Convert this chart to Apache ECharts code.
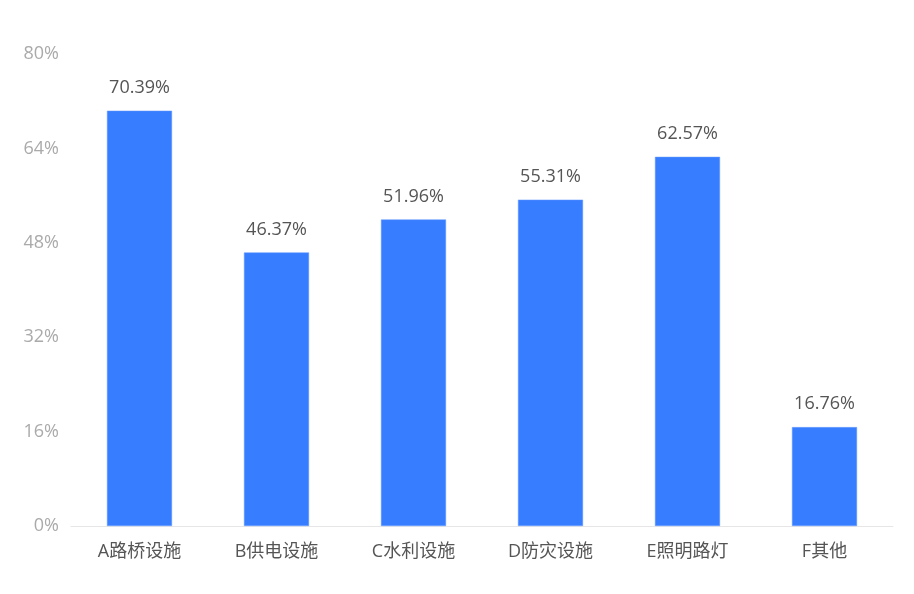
<!DOCTYPE html>
<html><head><meta charset="utf-8">
<script src="https://cdn.jsdelivr.net/npm/echarts@6/dist/echarts.min.js"></script>
<style>html,body{margin:0;padding:0;background:#fff}#c{width:914px;height:594px}</style>
</head><body><div id="c"></div>
<script>
const categories = ['A路桥设施','B供电设施','C水利设施','D防灾设施','E照明路灯','F其他'];
const values = [70.39, 46.37, 51.96, 55.31, 62.57, 16.76];
const yTicks = {min: 0, max: 80, interval: 16};
const font = '"Open Sans", "Noto Sans CJK SC", sans-serif';
const chart = echarts.init(document.getElementById('c'));
chart.setOption({
  animation: false,
  grid: {left: 71, right: 21, top: 54, bottom: 68},
  xAxis: {
    type: 'category', data: categories,
    axisLine: {lineStyle: {color: '#e6e6e6'}},
    axisTick: {show: false},
    axisLabel: {color: '#555', fontSize: 18, fontFamily: font, margin: 17}
  },
  yAxis: {
    type: 'value', min: yTicks.min, max: yTicks.max, interval: yTicks.interval,
    splitLine: {show: false},
    axisLine: {show: false}, axisTick: {show: false},
    axisLabel: {color: '#aaa', fontSize: 18, fontFamily: font, margin: 12, formatter: '{value}%'}
  },
  series: [{
    type: 'bar', data: values, barWidth: '47.5%',
    itemStyle: {color: '#377DFF', borderColor: '#6a9dff', borderWidth: 0.5},
    label: {show: true, position: 'top', distance: 14, color: '#555', fontSize: 18, fontFamily: font, formatter: p => p.value.toFixed(2) + '%'}
  }]
});
</script></body></html>
